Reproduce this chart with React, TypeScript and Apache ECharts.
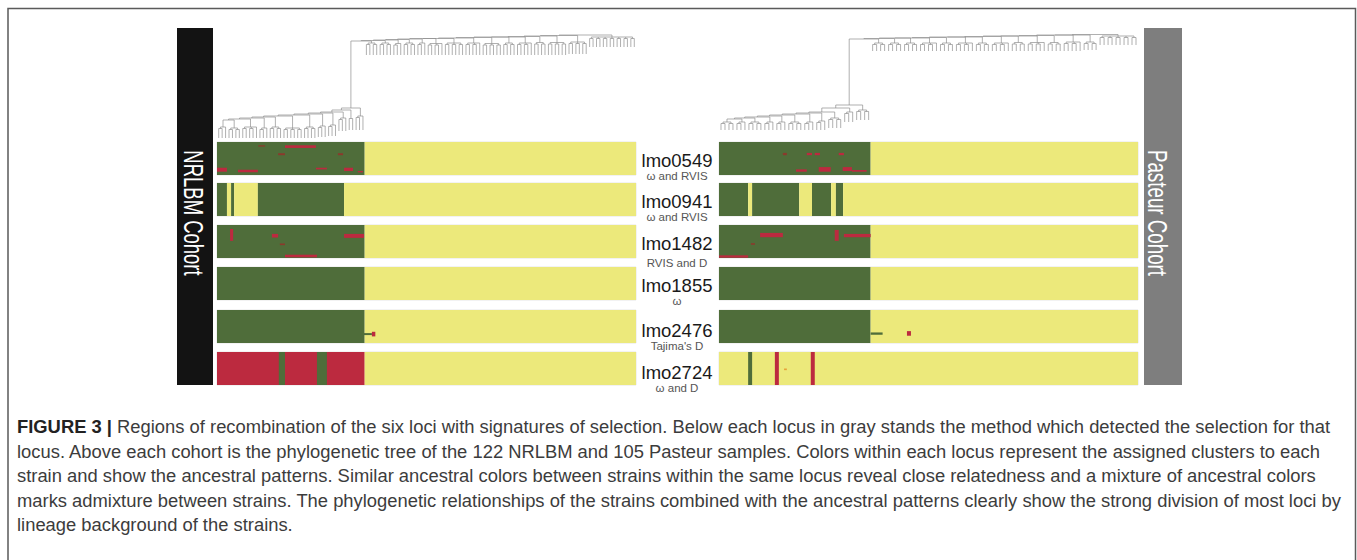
import React, { useEffect, useRef } from 'react';
import * as echarts from 'echarts';

// ---------------- data ----------------
const loci = ['lmo0549', 'lmo0941', 'lmo1482', 'lmo1855', 'lmo2476', 'lmo2724'];
const methods = ['ω and RVIS', 'ω and RVIS', 'RVIS and D', 'ω', "Tajima's D", 'ω and D'];
const cohorts = ['NRLBM Cohort', 'Pasteur Cohort'];
const strainCounts = [122, 105];
// cluster colours: 0 yellow, 1 green, 2 red, 3 orange, 4 dark red
const clusterColors = ['#ece97b', '#4f6d3a', '#bc2a3f', '#e7a23a', '#8a3a2c'];

// segments: [strainStart, strainEnd, rowFracTop, rowFracBottom, cluster]
const nrlbm_lmo0549 = [
  [0, 43, 0, 1, 1], [43, 122, 0, 1, 0],
  [19.8, 28.8, 0.1, 0.18, 2], [12, 14, 0.1, 0.14, 4], [17.8, 19.8, 0.34, 0.4, 4],
  [35.2, 36.7, 0.34, 0.4, 4], [0, 2.9, 0.78, 0.9, 2], [6.1, 11.9, 0.84, 0.92, 2],
  [28.8, 32, 0.78, 0.83, 2], [37, 39.6, 0.78, 0.88, 2], [41, 42.5, 0.88, 0.92, 2],
];
const nrlbm_lmo0941 = [
  [0, 2.9, 0, 1, 1], [2.9, 4.1, 0, 1, 0], [4.1, 5, 0, 1, 1], [5, 11.9, 0, 1, 0],
  [11.9, 37, 0, 1, 1], [37, 122, 0, 1, 0],
];
const nrlbm_lmo1482 = [
  [0, 43, 0, 1, 1], [43, 122, 0, 1, 0],
  [3.8, 4.7, 0.12, 0.48, 2], [16, 17.8, 0.27, 0.38, 2], [18.3, 19.8, 0.56, 0.61, 4],
  [37, 42.8, 0.27, 0.39, 2], [19.8, 29.1, 0.9, 0.98, 2],
];
const nrlbm_lmo1855 = [[0, 43, 0, 1, 1], [43, 122, 0, 1, 0]];
const nrlbm_lmo2476 = [
  [0, 43, 0, 1, 1], [43, 122, 0, 1, 0], [42.8, 45.1, 0.7, 0.76, 1], [45.1, 46.1, 0.66, 0.8, 2],
];
const nrlbm_lmo2724 = [
  [0, 43, 0, 1, 2], [43, 122, 0, 1, 0], [18, 19.8, 0, 1, 1], [29.1, 32, 0, 1, 1],
];

const pasteur_lmo0549 = [
  [0, 38, 0, 1, 1], [38, 105, 0, 1, 0],
  [16, 17, 0.33, 0.4, 4], [22, 23.3, 0.33, 0.4, 2], [24, 25.3, 0.33, 0.4, 2], [30, 31.3, 0.33, 0.4, 2],
  [19.3, 22, 0.83, 0.9, 2], [25, 28, 0.76, 0.9, 2], [31, 33.3, 0.76, 0.88, 2], [33.3, 37, 0.85, 0.9, 2],
];
const pasteur_lmo0941 = [
  [0, 7.3, 0, 1, 1], [7.3, 8.3, 0, 1, 0], [8.3, 20.1, 0, 1, 1], [20.1, 23.3, 0, 1, 0],
  [23.3, 28.1, 0, 1, 1], [28.1, 29.3, 0, 1, 0], [29.3, 31.1, 0, 1, 1], [31.1, 105, 0, 1, 0],
];
const pasteur_lmo1482 = [
  [0, 38, 0, 1, 1], [38, 105, 0, 1, 0],
  [10.3, 16, 0.24, 0.37, 2], [29, 30, 0.15, 0.48, 2], [31.3, 38, 0.27, 0.37, 2],
  [8, 9, 0.55, 0.6, 4], [0, 7.3, 0.92, 0.99, 2],
];
const pasteur_lmo1855 = [[0, 38, 0, 1, 1], [38, 105, 0, 1, 0]];
const pasteur_lmo2476 = [
  [0, 38, 0, 1, 1], [38, 105, 0, 1, 0], [38, 41, 0.68, 0.75, 1], [47.1, 48.1, 0.64, 0.78, 2],
];
const pasteur_lmo2724 = [
  [0, 105, 0, 1, 0], [7.3, 8.3, 0, 1, 1], [14, 15, 0, 1, 2], [16.3, 17, 0.5, 0.55, 3], [23, 24, 0, 1, 2],
];

const nrlbmRows = [nrlbm_lmo0549, nrlbm_lmo0941, nrlbm_lmo1482, nrlbm_lmo1855, nrlbm_lmo2476, nrlbm_lmo2724];
const pasteurRows = [pasteur_lmo0549, pasteur_lmo0941, pasteur_lmo1482, pasteur_lmo1855, pasteur_lmo2476, pasteur_lmo2724];

// phylogeny: tip groups left->right [tips, groupNodeDepth, tipDepth]; ladder join depths between groups
const nrlbmTreeGroups = [
  [3, 97, 108], [4, 98, 108], [5, 97, 108], [3, 98, 108], [4, 97, 108], [6, 98, 108], [4, 97, 108],
  [3, 96, 107], [3, 95, 106], [3, 88, 101], [2, 87, 100], [3, 86, 100],
  [4, 13, 25], [4, 13, 25], [3, 13.5, 25], [4, 13, 25], [3, 13, 25], [5, 13.5, 25], [6, 13, 25],
  [5, 13, 25], [6, 13.5, 25], [4, 13, 25], [5, 13, 25], [4, 12.5, 25], [6, 12.5, 25], [6, 12, 24], [14, 7, 17],
];
const nrlbmTreeJoins = [
  90, 89, 88, 87, 86, 85, 84, 83, 82, 80, 78,
  11, 10.5, 10, 9.5, 9, 8.5, 8.5, 8, 7.5, 7, 7, 6.5, 6, 5.5, 5,
];
const pasteurTreeGroups = [
  [4, 92, 100], [3, 92, 100], [4, 92, 100], [3, 92, 100], [3, 92, 100], [4, 92, 100], [3, 92, 100],
  [3, 91, 100], [4, 88, 98], [3, 82, 92], [4, 80, 90],
  [4, 13, 21], [4, 13, 21], [4, 13, 21], [5, 13, 21], [4, 13, 21], [5, 13, 21], [4, 13, 21],
  [5, 13, 21], [4, 12.5, 21], [5, 12.5, 21], [4, 12.5, 21], [5, 12, 21], [4, 12, 20], [10, 6, 15],
];
const pasteurTreeJoins = [
  89, 88, 87, 86, 85, 84, 83, 82, 78, 75,
  9, 8.5, 8, 8, 7.5, 7, 7, 6.5, 6, 6, 5.5, 5, 5, 4.5,
];

const captionLines = [
  'Regions of recombination of the six loci with signatures of selection. Below each locus in gray stands the method which detected the selection for that',
  'locus. Above each cohort is the phylogenetic tree of the 122 NRLBM and 105 Pasteur samples. Colors within each locus represent the assigned clusters to each',
  'strain and show the ancestral patterns. Similar ancestral colors between strains within the same locus reveal close relatedness and a mixture of ancestral colors',
  'marks admixture between strains. The phylogenetic relationships of the strains combined with the ancestral patterns clearly show the strong division of most loci by',
  'lineage background of the strains.',
];
const captionLabel = 'FIGURE 3 |';

// ---------------- tree helpers ----------------
type TNode = { depth: number; children?: TNode[]; x?: number };

function buildTree(groups: number[][], joins: number[]): TNode {
  const makeGroup = (g: number[]): TNode => {
    const [n, nd, td] = g;
    const kids: TNode[] = [];
    let i = 0;
    while (i < n) {
      if (n - i >= 2) {
        kids.push({ depth: nd + 1.5, children: [{ depth: td }, { depth: td }] });
        i += 2;
      } else {
        kids.push({ depth: td });
        i += 1;
      }
    }
    return { depth: nd, children: kids };
  };
  let node = makeGroup(groups[0]);
  for (let k = 1; k < groups.length; k++) {
    node = { depth: joins[k - 1], children: [node, makeGroup(groups[k])] };
  }
  return node;
}

function treeSegments(root: TNode): number[][] {
  let leaf = 0;
  const place = (n: TNode) => {
    if (!n.children) {
      n.x = leaf + 0.5;
      leaf++;
      return;
    }
    n.children.forEach(place);
    n.x = ((n.children[0].x as number) + (n.children[n.children.length - 1].x as number)) / 2;
  };
  place(root);
  const segs: number[][] = [];
  const emit = (n: TNode) => {
    if (!n.children) return;
    const f = n.children[0];
    const l = n.children[n.children.length - 1];
    if ((l.x as number) > (f.x as number)) segs.push([f.x as number, n.depth, l.x as number, n.depth]);
    n.children.forEach((c) => {
      segs.push([c.x as number, n.depth, c.x as number, c.depth]);
      emit(c);
    });
  };
  emit(root);
  return segs;
}

// ---------------- layout ----------------
const panelLeft = [217, 719];
const panelWidth = 419;
const rowTops = [142, 183, 225, 267, 310, 352];
const rowHeight = 33;
const treeTop = 30;
const treeHeight = 110;
const labelY = [160, 201, 243, 285, 330, 372];
const methodY = [176, 217, 263, 301, 346, 388];

function buildOption() {
  const grids: any[] = [];
  const xAxes: any[] = [];
  const yAxes: any[] = [];
  const series: any[] = [];

  const treeData = [
    treeSegments(buildTree(nrlbmTreeGroups, nrlbmTreeJoins)),
    treeSegments(buildTree(pasteurTreeGroups, pasteurTreeJoins)),
  ];

  for (let c = 0; c < 2; c++) {
    const gi = grids.length;
    grids.push({ left: panelLeft[c], top: treeTop, width: panelWidth, height: treeHeight });
    xAxes.push({ gridIndex: gi, type: 'value', min: 0, max: strainCounts[c], show: false });
    yAxes.push({ gridIndex: gi, type: 'value', min: 0, max: treeHeight, inverse: true, show: false });
    series.push({
      type: 'custom',
      xAxisIndex: gi,
      yAxisIndex: gi,
      data: treeData[c],
      encode: { x: [0, 2], y: [1, 3] },
      silent: true,
      renderItem: (params: any, api: any) => {
        const a = api.coord([api.value(0), api.value(1)]);
        const b = api.coord([api.value(2), api.value(3)]);
        return {
          type: 'line',
          shape: { x1: a[0], y1: a[1], x2: b[0], y2: b[1] },
          style: { stroke: '#8e8e8e', lineWidth: 0.7 },
        };
      },
    });
  }

  const rowsByCohort = [nrlbmRows, pasteurRows];
  for (let r = 0; r < loci.length; r++) {
    for (let c = 0; c < 2; c++) {
      const gi = grids.length;
      grids.push({
        left: panelLeft[c], top: rowTops[r], width: panelWidth, height: rowHeight,
        show: true, borderColor: '#e6e6e6', borderWidth: 1, backgroundColor: 'transparent',
      });
      xAxes.push({ gridIndex: gi, type: 'value', min: 0, max: strainCounts[c], show: false });
      yAxes.push({ gridIndex: gi, type: 'value', min: 0, max: 1, inverse: true, show: false });
      series.push({
        type: 'custom',
        name: `${cohorts[c]} ${loci[r]}`,
        xAxisIndex: gi,
        yAxisIndex: gi,
        data: rowsByCohort[c][r],
        encode: { x: [0, 1], y: [2, 3] },
        silent: true,
        renderItem: (params: any, api: any) => {
          const p0 = api.coord([api.value(0), api.value(2)]);
          const p1 = api.coord([api.value(1), api.value(3)]);
          return {
            type: 'rect',
            shape: {
              x: p0[0],
              y: Math.min(p0[1], p1[1]),
              width: p1[0] - p0[0],
              height: Math.abs(p1[1] - p0[1]),
            },
            style: { fill: clusterColors[api.value(4)] },
          };
        },
      });
    }
  }

  const graphic: any[] = [];
  // figure frame
  graphic.push({
    type: 'polyline',
    shape: { points: [[8, 600], [8, 8.5], [1355.5, 8.5], [1355.5, 600]] },
    style: { stroke: '#5a5a5a', lineWidth: 1.5, fill: 'none' },
    silent: true,
  });
  // cohort bars
  graphic.push({ type: 'rect', shape: { x: 177, y: 28, width: 36, height: 357 }, style: { fill: '#131313' } });
  graphic.push({ type: 'rect', shape: { x: 1144, y: 28, width: 38, height: 357 }, style: { fill: '#7e7e7e' } });
  const cohortTextX = [193, 1158];
  const cohortScale = [0.66, 0.67];
  for (let c = 0; c < 2; c++) {
    graphic.push({
      type: 'text',
      x: cohortTextX[c],
      y: 213,
      rotation: -Math.PI / 2,
      scaleX: cohortScale[c],
      style: {
        text: cohorts[c],
        fill: '#ffffff',
        font: '28px "Liberation Sans", Arial, sans-serif',
        align: 'center',
        verticalAlign: 'middle',
        textAlign: 'center',
        textVerticalAlign: 'middle',
      },
    });
  }
  // locus labels
  for (let r = 0; r < loci.length; r++) {
    graphic.push({
      type: 'text',
      x: 677,
      y: labelY[r],
      style: {
        text: loci[r],
        fill: '#1a1a1a',
        font: '18.5px "Liberation Sans", Arial, sans-serif',
        align: 'center', verticalAlign: 'middle', textAlign: 'center', textVerticalAlign: 'middle',
      },
    });
    graphic.push({
      type: 'text',
      x: 677,
      y: methodY[r],
      style: {
        text: methods[r],
        fill: '#555555',
        font: '11.5px "Liberation Sans", Arial, sans-serif',
        align: 'center', verticalAlign: 'middle', textAlign: 'center', textVerticalAlign: 'middle',
      },
    });
  }
  // caption
  const capY = [427, 452, 476, 501, 525];
  for (let i = 0; i < captionLines.length; i++) {
    const text = i === 0 ? `{b|${captionLabel}} ${captionLines[i]}` : captionLines[i];
    graphic.push({
      type: 'text',
      x: 17,
      y: capY[i],
      scaleX: 1.05,
      style: {
        text,
        fill: '#3c3c3c',
        font: '17.5px "Liberation Sans", Arial, sans-serif',
        align: 'left', verticalAlign: 'middle', textAlign: 'left', textVerticalAlign: 'middle',
        rich: {
          b: { fontWeight: 'bold', fill: '#222222', fontSize: 17.5, fontFamily: '"Liberation Sans", Arial, sans-serif' },
        },
      },
    });
  }

  return {
    animation: false,
    backgroundColor: '#ffffff',
    grid: grids,
    xAxis: xAxes,
    yAxis: yAxes,
    series,
    graphic: { elements: graphic },
  };
}

export default function App() {
  const ref = useRef<HTMLDivElement | null>(null);
  useEffect(() => {
    if (!ref.current) return;
    const chart = echarts.init(ref.current, undefined, { renderer: 'svg' });
    chart.setOption(buildOption() as any);
    return () => chart.dispose();
  }, []);
  return (
    <div
      ref={ref}
      style={{ position: 'absolute', left: 0, top: 0, width: 1357, height: 560, background: '#fff' }}
    />
  );
}
